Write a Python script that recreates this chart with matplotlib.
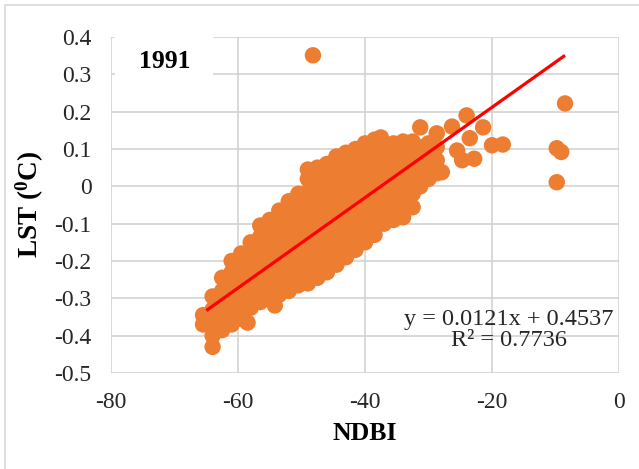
import matplotlib
matplotlib.use("Agg")
import matplotlib.pyplot as plt
from matplotlib.patches import Rectangle

plt.rcParams['font.family'] = ['Liberation Serif', 'DejaVu Serif']
plt.rcParams['mathtext.fontset'] = 'custom'
plt.rcParams['mathtext.rm'] = 'Liberation Serif'
plt.rcParams['mathtext.bf'] = 'Liberation Serif:bold'

# NDBI (x) column -> LST (y) values
ndbi_cols = [-65.5, -64.0, -62.5, -61.0, -59.5, -58.5, -58.0, -56.5, -55.0, -54.2,
             -53.5, -52.0, -50.5, -49.0, -47.5, -46.0, -44.5, -43.0, -41.5, -40.0,
             -38.5, -37.5, -37.0, -35.5, -34.0, -32.5, -31.3, -30.0, -28.7, -27.9,
             -26.3, -25.5, -24.7, -24.0, -23.5, -22.8, -21.4, -20.0, -18.3,
             -48.2, -8.5, -9.8, -9.1, -9.8]
lst_cols = [
    [-0.37, -0.345],
    [-0.43, -0.40, -0.365, -0.33, -0.295],
    [-0.385, -0.35, -0.315, -0.28, -0.245],
    [-0.37, -0.335, -0.30, -0.265, -0.23, -0.20],
    [-0.355, -0.32, -0.285, -0.25, -0.215, -0.18],
    [-0.365],
    [-0.325, -0.29, -0.255, -0.22, -0.185, -0.15],
    [-0.31, -0.275, -0.24, -0.205, -0.17, -0.135, -0.105],
    [-0.30, -0.265, -0.23, -0.195, -0.16, -0.125, -0.09],
    [-0.319],
    [-0.29, -0.255, -0.22, -0.185, -0.15, -0.115, -0.08, -0.065],
    [-0.28, -0.245, -0.21, -0.175, -0.14, -0.105, -0.07, -0.04],
    [-0.265, -0.23, -0.195, -0.16, -0.125, -0.09, -0.055, -0.02],
    [-0.26, -0.225, -0.19, -0.155, -0.12, -0.085, -0.05, -0.015, 0.02, 0.045],
    [-0.245, -0.21, -0.175, -0.14, -0.105, -0.07, -0.035, 0.0, 0.035, 0.05],
    [-0.23, -0.195, -0.16, -0.125, -0.09, -0.055, -0.02, 0.015, 0.05, 0.06],
    [-0.21, -0.175, -0.14, -0.105, -0.07, -0.035, 0.0, 0.035, 0.07, 0.08],
    [-0.19, -0.155, -0.12, -0.085, -0.05, -0.015, 0.02, 0.055, 0.09],
    [-0.17, -0.135, -0.10, -0.065, -0.03, 0.005, 0.04, 0.075, 0.10],
    [-0.15, -0.115, -0.08, -0.045, -0.01, 0.025, 0.06, 0.095, 0.115],
    [-0.13, -0.095, -0.06, -0.025, 0.01, 0.045, 0.08, 0.115, 0.125],
    [0.131],
    [-0.10, -0.065, -0.03, 0.005, 0.04, 0.075, 0.11],
    [-0.09, -0.055, -0.02, 0.015, 0.05, 0.085, 0.115],
    [-0.083, -0.05, -0.015, 0.02, 0.055, 0.09, 0.12],
    [-0.056, -0.02, 0.015, 0.05, 0.085, 0.12],
    [0.0, 0.035, 0.07, 0.105, 0.158],
    [0.02, 0.05, 0.08, 0.115],
    [0.035, 0.07, 0.105, 0.142],
    [0.038],
    [0.16],
    [0.096],
    [0.07],
    [0.19],
    [0.129],
    [0.074],
    [0.158],
    [0.11],
    [0.112],
    [0.351],
    [0.222],
    [0.102],
    [0.092],
    [0.011],
]

slope = 0.0121
intercept = 0.4537
r2 = 0.7736
trend_x = [-65.0, -8.5]
year_label = "1991"

xticks = [-80, -60, -40, -20, 0]
yticks = [-0.5, -0.4, -0.3, -0.2, -0.1, 0, 0.1, 0.2, 0.3, 0.4]
xtick_labels = ["-80", "-60", "-40", "-20", "0"]
ytick_labels = ["-0.5", "-0.4", "-0.3", "-0.2", "-0.1", "0", "0.1", "0.2", "0.3", "0.4"]

xs, ys = [], []
for xv, yl in zip(ndbi_cols, lst_cols):
    for yv in yl:
        xs.append(xv)
        ys.append(yv)

fig = plt.figure(figsize=(6.39, 4.69), dpi=100)
ax = fig.add_axes([0.1737, 0.2047, 0.7950, 0.7164])

# figure border (partially cropped)
fig.patches.append(Rectangle((5 / 639, -0.02), 1.1, 1 - 5 / 469 + 0.02,
                             transform=fig.transFigure, fill=False,
                             edgecolor='#d9d9d9', linewidth=1.2, zorder=0))

ax.set_xlim(-80, 0)
ax.set_ylim(-0.5, 0.4)
ax.set_xticks(xticks)
ax.set_xticklabels(xtick_labels)
ax.set_yticks(yticks)
ax.set_yticklabels(ytick_labels)
ax.tick_params(length=0, pad=14, labelsize=17, colors='#262626')
ax.grid(True, color='#d0d0d0', linewidth=1.1)
ax.set_axisbelow(True)
for sp in ax.spines.values():
    sp.set_visible(False)

ax.scatter(xs, ys, s=140, color='#ED7D31', edgecolors='none', zorder=2)

ty = [slope * v + intercept for v in trend_x]
ax.plot(trend_x, ty, color='#FF0000', linewidth=2.3, zorder=3,
        solid_capstyle='butt')

# white box behind the year label
ax.add_patch(Rectangle((4 / 508, 1 - 45 / 336), 98 / 508, 45 / 336,
                       transform=ax.transAxes, facecolor='white',
                       edgecolor='none', zorder=1.5))
ax.text(54 / 508, 1 - 24 / 336, year_label, transform=ax.transAxes,
        ha='center', va='center', fontsize=18.5, fontweight='bold', zorder=4)

ax.text(509 / 639, 1 - 330 / 469,
        f"y = {slope}x + {intercept}\nR² = {r2}",
        transform=fig.transFigure, ha='center', va='center',
        multialignment='center', fontsize=17.5, color='#262626',
        linespacing=1.0, zorder=4)

ax.set_xlabel("NDBI", fontsize=18.5, fontweight='bold', labelpad=6)
ax.set_ylabel(r"LST ($\mathbf{^{0}}$C)", fontsize=19.5, fontweight='bold', labelpad=6)

fig.savefig("out.png", dpi=100)
